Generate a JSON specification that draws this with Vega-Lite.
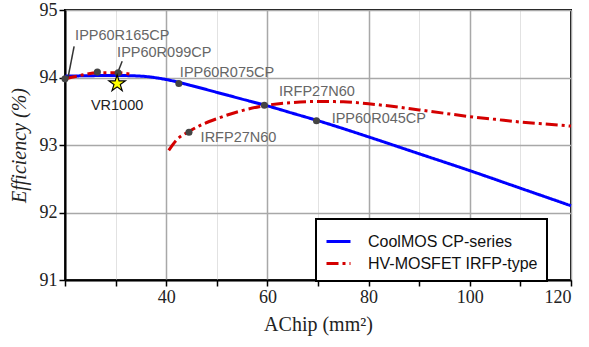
{
  "$schema": "https://vega.github.io/schema/vega-lite/v6.json",
  "width": 506,
  "height": 270,
  "autosize": {"type": "none"},
  "padding": {"left": 65, "top": 10, "right": 18, "bottom": 67},
  "background": "white",
  "config": {
    "view": {"stroke": "black", "strokeWidth": 2},
    "axis": {
      "domainColor": "black", "domainWidth": 2,
      "tickColor": "black", "tickWidth": 1.5, "tickSize": 6,
      "labelFont": "Liberation Serif", "labelFontSize": 18, "labelColor": "#222",
      "titleFont": "Liberation Serif", "titleFontSize": 20, "titleColor": "#222", "titleFontWeight": "normal"
    },
    "legend": {
      "strokeColor": "black", "strokeWidth": 2, "fillColor": "white",
      "padding": 9, "symbolType": "stroke", "symbolSize": 576, "symbolStrokeWidth": 3,
      "labelFont": "Liberation Sans", "labelFontSize": 16, "labelColor": "#111",
      "rowPadding": 0, "labelOffset": 16, "labelLimit": 300
    }
  },
  "layer": [
    {
      "data": {"values": [
        {"a": 20, "eff": 94.02, "series": "CoolMOS CP-series", "seg": "c"},
        {"a": 30, "eff": 94.03, "series": "CoolMOS CP-series", "seg": "c"},
        {"a": 35, "eff": 94.02, "series": "CoolMOS CP-series", "seg": "c"},
        {"a": 40, "eff": 93.97, "series": "CoolMOS CP-series", "seg": "c"},
        {"a": 45, "eff": 93.88, "series": "CoolMOS CP-series", "seg": "c"},
        {"a": 50, "eff": 93.78, "series": "CoolMOS CP-series", "seg": "c"},
        {"a": 55, "eff": 93.68, "series": "CoolMOS CP-series", "seg": "c"},
        {"a": 60, "eff": 93.58, "series": "CoolMOS CP-series", "seg": "c"},
        {"a": 65, "eff": 93.47, "series": "CoolMOS CP-series", "seg": "c"},
        {"a": 70, "eff": 93.36, "series": "CoolMOS CP-series", "seg": "c"},
        {"a": 80, "eff": 93.12, "series": "CoolMOS CP-series", "seg": "c"},
        {"a": 90, "eff": 92.87, "series": "CoolMOS CP-series", "seg": "c"},
        {"a": 100, "eff": 92.62, "series": "CoolMOS CP-series", "seg": "c"},
        {"a": 110, "eff": 92.36, "series": "CoolMOS CP-series", "seg": "c"},
        {"a": 120, "eff": 92.1, "series": "CoolMOS CP-series", "seg": "c"},
        {"a": 20, "eff": 93.98, "series": "HV-MOSFET IRFP-type", "seg": "r1"},
        {"a": 23, "eff": 94.03, "series": "HV-MOSFET IRFP-type", "seg": "r1"},
        {"a": 26.4, "eff": 94.07, "series": "HV-MOSFET IRFP-type", "seg": "r1"},
        {"a": 30.5, "eff": 94.07, "series": "HV-MOSFET IRFP-type", "seg": "r1"},
        {"a": 33, "eff": 94.05, "series": "HV-MOSFET IRFP-type", "seg": "r1"},
        {"a": 40.5, "eff": 92.92, "series": "HV-MOSFET IRFP-type", "seg": "r2"},
        {"a": 42, "eff": 93.07, "series": "HV-MOSFET IRFP-type", "seg": "r2"},
        {"a": 44.5, "eff": 93.2, "series": "HV-MOSFET IRFP-type", "seg": "r2"},
        {"a": 47, "eff": 93.3, "series": "HV-MOSFET IRFP-type", "seg": "r2"},
        {"a": 50, "eff": 93.39, "series": "HV-MOSFET IRFP-type", "seg": "r2"},
        {"a": 55, "eff": 93.51, "series": "HV-MOSFET IRFP-type", "seg": "r2"},
        {"a": 60, "eff": 93.59, "series": "HV-MOSFET IRFP-type", "seg": "r2"},
        {"a": 65, "eff": 93.63, "series": "HV-MOSFET IRFP-type", "seg": "r2"},
        {"a": 70, "eff": 93.645, "series": "HV-MOSFET IRFP-type", "seg": "r2"},
        {"a": 75, "eff": 93.64, "series": "HV-MOSFET IRFP-type", "seg": "r2"},
        {"a": 80, "eff": 93.61, "series": "HV-MOSFET IRFP-type", "seg": "r2"},
        {"a": 85, "eff": 93.57, "series": "HV-MOSFET IRFP-type", "seg": "r2"},
        {"a": 90, "eff": 93.52, "series": "HV-MOSFET IRFP-type", "seg": "r2"},
        {"a": 95, "eff": 93.47, "series": "HV-MOSFET IRFP-type", "seg": "r2"},
        {"a": 100, "eff": 93.42, "series": "HV-MOSFET IRFP-type", "seg": "r2"},
        {"a": 105, "eff": 93.38, "series": "HV-MOSFET IRFP-type", "seg": "r2"},
        {"a": 110, "eff": 93.34, "series": "HV-MOSFET IRFP-type", "seg": "r2"},
        {"a": 115, "eff": 93.31, "series": "HV-MOSFET IRFP-type", "seg": "r2"},
        {"a": 120, "eff": 93.28, "series": "HV-MOSFET IRFP-type", "seg": "r2"}
      ]},
      "mark": {"type": "line", "strokeWidth": 3, "interpolate": "monotone"},
      "encoding": {
        "x": {
          "field": "a", "type": "quantitative",
          "scale": {"domain": [20, 120], "nice": false, "zero": false},
          "axis": {
            "title": "AChip (mm²)",
            "values": [20, 30, 40, 50, 60, 70, 80, 90, 100, 110, 120],
            "labelExpr": "datum.value % 20 === 0 && datum.value > 20 ? datum.label : ''",
            "grid": true,
            "gridColor": {"condition": {"test": "datum.value % 20 === 0", "value": "#a8a8a8"}, "value": "#e2e2e2"},
            "gridWidth": {"condition": {"test": "datum.value % 20 === 0", "value": 1.5}, "value": 1},
            "labelPadding": 2,
            "titlePadding": 8
          }
        },
        "y": {
          "field": "eff", "type": "quantitative",
          "scale": {"domain": [91, 95], "nice": false, "zero": false},
          "axis": {
            "title": "Efficiency (%)",
            "titleFontStyle": "italic",
            "values": [91, 91.5, 92, 92.5, 93, 93.5, 94, 94.5, 95],
            "labelExpr": "datum.value % 1 === 0 ? format(datum.value, 'd') : ''",
            "grid": true,
            "gridColor": {"condition": {"test": "datum.value % 1 === 0", "value": "#a8a8a8"}, "value": "#e2e2e2"},
            "gridWidth": {"condition": {"test": "datum.value % 1 === 0", "value": 1.5}, "value": 1},
            "labelPadding": 2,
            "titlePadding": 10
          }
        },
        "color": {
          "field": "series", "type": "nominal",
          "scale": {"domain": ["CoolMOS CP-series", "HV-MOSFET IRFP-type"], "range": ["#0000ff", "#d40000"]},
          "legend": {"title": null, "orient": "none", "legendX": 251, "legendY": 209}
        },
        "strokeDash": {
          "field": "series", "type": "nominal",
          "scale": {"domain": ["CoolMOS CP-series", "HV-MOSFET IRFP-type"], "range": [[1, 0], [12, 4, 3, 4]]},
          "legend": {"title": null, "orient": "none", "legendX": 251, "legendY": 209}
        },
        "detail": {"field": "seg", "type": "nominal"}
      }
    },
    {
      "data": {"values": [
        {"a": 20.6, "eff": 94.0, "a2": 21.8, "eff2": 94.46},
        {"a": 30.5, "eff": 94.09, "a2": 31.3, "eff2": 94.24}
      ]},
      "mark": {"type": "rule", "color": "#333", "strokeWidth": 1.5},
      "encoding": {
        "x": {"field": "a", "type": "quantitative"},
        "y": {"field": "eff", "type": "quantitative"},
        "x2": {"field": "a2"},
        "y2": {"field": "eff2"}
      }
    },
    {
      "data": {"values": [
        {"a": 20, "eff": 93.98},
        {"a": 26.4, "eff": 94.08},
        {"a": 30.5, "eff": 94.07},
        {"a": 42.5, "eff": 93.91},
        {"a": 59.4, "eff": 93.59},
        {"a": 69.7, "eff": 93.36},
        {"a": 44.5, "eff": 93.19}
      ]},
      "mark": {"type": "circle", "color": "#444", "size": 50, "opacity": 1},
      "encoding": {
        "x": {"field": "a", "type": "quantitative"},
        "y": {"field": "eff", "type": "quantitative"}
      }
    },
    {
      "data": {"values": [
        {"a": 22.0, "eff": 94.61, "text": "IPP60R165CP"},
        {"a": 30.3, "eff": 94.36, "text": "IPP60R099CP"},
        {"a": 42.7, "eff": 94.07, "text": "IPP60R075CP"},
        {"a": 62.3, "eff": 93.78, "text": "IRFP27N60"},
        {"a": 72.7, "eff": 93.39, "text": "IPP60R045CP"},
        {"a": 46.8, "eff": 93.1, "text": "IRFP27N60"}
      ]},
      "mark": {"type": "text", "align": "left", "baseline": "middle", "font": "Liberation Sans", "fontSize": 14.5, "color": "#666"},
      "encoding": {
        "x": {"field": "a", "type": "quantitative"},
        "y": {"field": "eff", "type": "quantitative"},
        "text": {"field": "text"}
      }
    },
    {
      "data": {"values": [{"a": 30.3, "eff": 93.91, "label": "VR1000", "teff": 93.6}]},
      "mark": {"type": "point", "shape": "M0,-1L0.2245,-0.309L0.951,-0.309L0.3633,0.118L0.5878,0.809L0,0.382L-0.5878,0.809L-0.3633,0.118L-0.951,-0.309L-0.2245,-0.309Z", "filled": true, "fill": "#ffff00", "stroke": "black", "strokeWidth": 1.2, "size": 300, "opacity": 1},
      "encoding": {
        "x": {"field": "a", "type": "quantitative"},
        "y": {"field": "eff", "type": "quantitative"}
      }
    },
    {
      "data": {"values": [{"a": 30.3, "eff": 93.91, "label": "VR1000", "teff": 93.58}]},
      "mark": {"type": "text", "align": "center", "baseline": "middle", "font": "Liberation Sans", "fontSize": 14.5, "color": "#222"},
      "encoding": {
        "x": {"field": "a", "type": "quantitative"},
        "y": {"field": "teff", "type": "quantitative"},
        "text": {"field": "label"}
      }
    }
  ]
}
